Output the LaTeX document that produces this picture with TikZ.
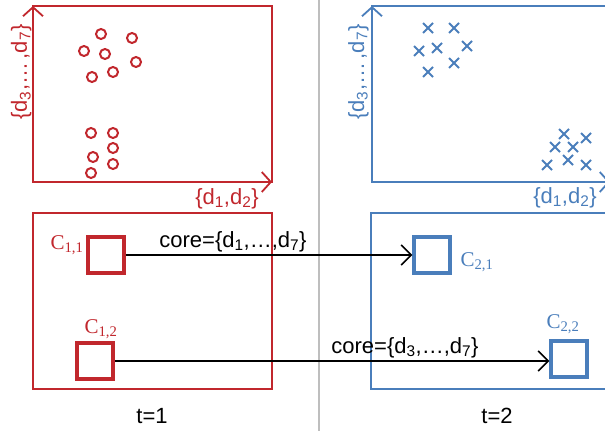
\documentclass[tikz,border=0pt]{standalone}
\usepackage{fontspec}
\setmainfont{Liberation Serif}
\newfontfamily\arialf{Liberation Sans}
\usetikzlibrary{arrows.meta}
\definecolor{cred}{RGB}{193,39,45}
\definecolor{cblue}{RGB}{74,126,187}
\definecolor{cgray}{RGB}{190,190,190}
\begin{document}
\begin{tikzpicture}[x=1pt,y=-1pt,
 sans/.style={font=\arialf\fontsize{22}{26}\selectfont, inner sep=0pt},
 serif/.style={font=\fontsize{21}{25}\selectfont, inner sep=0pt},
 frame/.style={line width=1.8pt},
 axis/.style={line width=1.8pt,-{Straight Barb[length=9pt,width=20pt,line width=1.8pt]}},
 pt/.style={line width=2pt},
 sq/.style={draw,line width=3.5pt,minimum size=36pt,inner sep=0pt},
 link/.style={line width=1.5pt,black,-{Straight Barb[length=10pt,width=20pt,line width=1.5pt]}}
]
\useasboundingbox (0,0) rectangle (605,431);
% separator
\draw[cgray,line width=2pt] (319,0) -- (319,431);
% ---- top left scatter
\draw[frame,cred] (33,6) rectangle (272,182);
\coordinate (o1) at (33,182);
\coordinate (y1) at (33,6);
\coordinate (x1) at (272,182);
\draw[axis,cred] (o1) -- (y1);
\draw[axis,cred] (o1) -- (x1);
\node[sans,cred,rotate=90,anchor=base] (ly1) at (27,72) {\{d\textsubscript{3},\ldots\,,d\textsubscript{7}\}};
\node[sans,cred,anchor=base] (lx1) at (227,204) {\{d\textsubscript{1},d\textsubscript{2}\}};
\foreach \x/\y in {101/34,132/38,84/51,105/54,136/62,92/77,113/72,91/133,113/133,113/148,93/157,113/164,91/173}
  \draw[pt,cred] (\x,\y) circle[radius=5pt];
% ---- top right scatter
\draw[frame,cblue] (372,6) rectangle (610,182);
\coordinate (o2) at (372,182);
\coordinate (y2) at (372,6);
\coordinate (x2) at (610,182);
\draw[axis,cblue] (o2) -- (y2);
\draw[axis,cblue] (o2) -- (x2);
\node[sans,cblue,rotate=90,anchor=base] (ly2) at (364,72) {\{d\textsubscript{3},\ldots\,,d\textsubscript{7}\}};
\node[sans,cblue,anchor=base] (lx2) at (565,203) {\{d\textsubscript{1},d\textsubscript{2}\}};
\foreach \x/\y in {428/28,454/28,419/51,437/48,467/46,454/63,428/72,564/134,586/138,555/147,573/147,568/160,547/165,586/165}
  \draw[pt,cblue] (\x-5,\y-5) -- (\x+5,\y+5) (\x-5,\y+5) -- (\x+5,\y-5);
% ---- bottom boxes
\draw[frame,cred] (33,213) rectangle (272,389);
\draw[frame,cblue] (371,213) rectangle (610,389);
\node[sq,cred] (c11) at (106,255) {};
\node[sq,cred] (c12) at (95,361) {};
\node[sq,cblue] (c21) at (432,255) {};
\node[sq,cblue] (c22) at (569,359) {};
\node[serif,cred,anchor=base] (lc11) at (67,249) {C\textsubscript{1,1}};
\node[serif,cred,anchor=base] (lc12) at (101,333) {C\textsubscript{1,2}};
\node[serif,cblue,anchor=base] (lc21) at (477,266) {C\textsubscript{2,1}};
\node[serif,cblue,anchor=base] (lc22) at (563,328) {C\textsubscript{2,2}};
\draw[link] (c11.east) -- (c21.west);
\draw[link] (c12.east) -- (c12.east -| c22.west);
\node[sans,anchor=base] (core1) at (233,247) {core=\{d\textsubscript{1},\ldots,d\textsubscript{7}\}};
\node[sans,anchor=base] (core2) at (405,353) {core=\{d\textsubscript{3},\ldots,d\textsubscript{7}\}};
\node[sans,anchor=base] (t1) at (152,423) {t=1};
\node[sans,anchor=base] (t2) at (497,423) {t=2};
\end{tikzpicture}
\end{document}
